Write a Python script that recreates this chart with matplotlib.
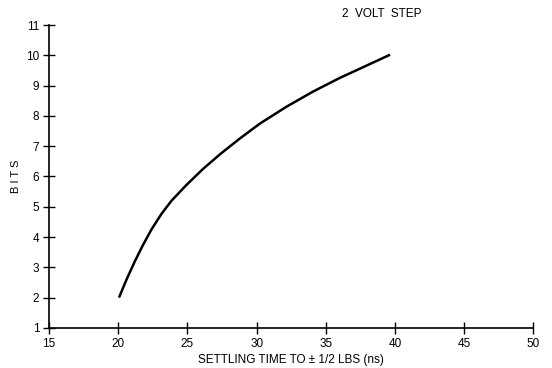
import matplotlib
matplotlib.use("Agg")
import matplotlib.pyplot as plt

# curve
settle_ns = [20.05, 20.6, 21.2, 21.8, 22.4, 23.1, 23.85, 24.93, 26.13, 27.4,
             28.78, 30.22, 32.15, 34.07, 36.0, 37.9, 39.65]
bits = [2.0, 2.6, 3.2, 3.75, 4.25, 4.75, 5.2, 5.72, 6.25, 6.75,
        7.25, 7.74, 8.3, 8.8, 9.25, 9.65, 10.02]

x_ticks = [15, 20, 25, 30, 35, 40, 45, 50]
y_ticks = [1, 2, 3, 4, 5, 6, 7, 8, 9, 10, 11]

plt.rcParams["font.family"] = "Liberation Sans"

fig = plt.figure(figsize=(5.52, 3.68), dpi=100)
ax = fig.add_axes([0.089, 0.109, 0.877, 0.823])

ax.plot(settle_ns, bits, color="black", lw=1.8, solid_capstyle="butt",
        solid_joinstyle="round")

ax.set_xlim(15, 50)
ax.set_ylim(1, 11)
ax.set_xticks(x_ticks)
ax.set_yticks(y_ticks)
ax.tick_params(direction="inout", length=8, width=1, labelsize=8.5, pad=3)
ax.spines[["top", "right"]].set_visible(False)
for s in ["left", "bottom"]:
    ax.spines[s].set_linewidth(1.2)

ax.set_xlabel("SETTLING TIME TO \u00b1 1/2 LBS (ns)", fontsize=8.5, labelpad=3)
ax.set_ylabel("B I T S", fontsize=8, labelpad=4)
fig.text(0.62, 0.955, "2  VOLT  STEP", fontsize=8.5)

fig.savefig("out.png", dpi=100)
